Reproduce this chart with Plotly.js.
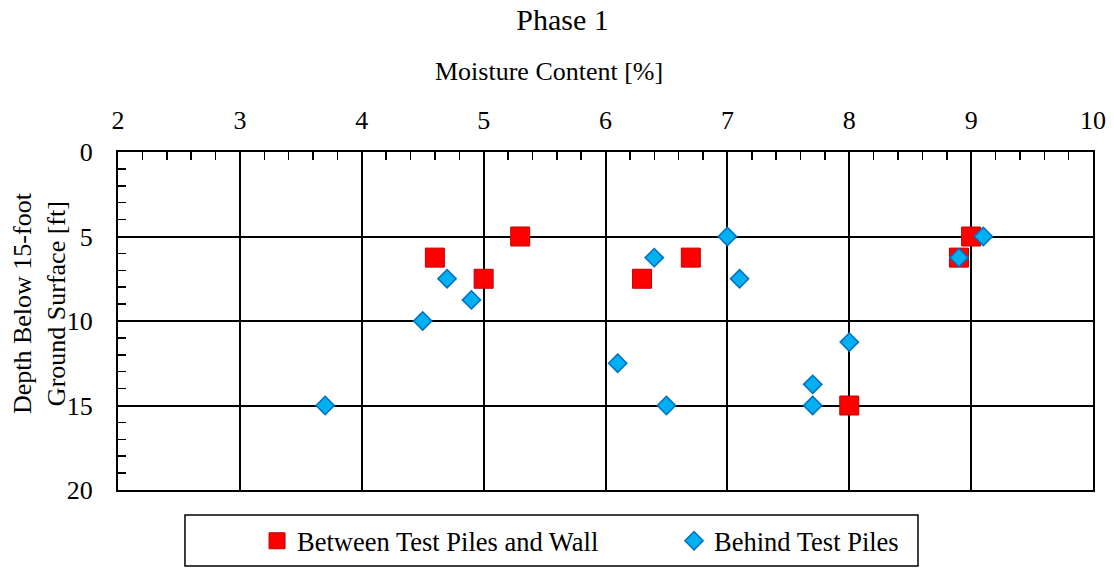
<!DOCTYPE html>
<html><head><meta charset="utf-8">
<script src="https://cdn.plot.ly/plotly-3.0.1.min.js"></script>
<style>html,body{margin:0;padding:0;background:#fff;}</style>
</head><body>
<div id="chart" style="width:1114px;height:569px;"></div>
<script>
const chartTitle = "Phase 1";
const xTitle = "Moisture Content [%]";
const yTitle = "Depth Below 15-foot<br>Ground Surface [ft]";
const seriesNames = ["Between Test Piles and Wall", "Behind Test Piles"];
const betweenMoisture = [4.6, 5.0, 5.3, 6.3, 6.7, 8.0, 9.0, 8.9];
const betweenDepth    = [6.25, 7.5, 5, 7.5, 6.25, 15, 5, 6.25];
const behindMoisture  = [3.7, 4.5, 4.7, 4.9, 6.1, 6.4, 6.5, 7.0, 7.1, 7.7, 7.7, 8.0, 8.9, 9.1];
const behindDepth     = [15, 10, 7.5, 8.75, 12.5, 6.25, 15, 5, 7.5, 13.75, 15, 11.25, 6.25, 5];
const xTickVals = [2, 3, 4, 5, 6, 7, 8, 9, 10];
const yTickVals = [0, 5, 10, 15, 20];

const FONT = "'Liberation Serif', 'Times New Roman', Times, 'DejaVu Serif', serif";

const traces = [
  {
    type: "scatter", mode: "markers", name: seriesNames[0], legend: "legend",
    x: betweenMoisture, y: betweenDepth,
    marker: {symbol: "square", size: 19, color: "#FF0000", line: {color: "#C00000", width: 1}}
  },
  {
    type: "scatter", mode: "markers", name: seriesNames[1], legend: "legend2",
    x: behindMoisture, y: behindDepth,
    marker: {symbol: "diamond", size: 14, color: "#00B0F0", line: {color: "#0070C0", width: 1.5}}
  }
];

const legendFont = {family: FONT, size: 26.5, color: "#000"};

const layout = {
  width: 1114, height: 569,
  margin: {l: 118, r: 21, t: 152, b: 79, autoexpand: false},
  paper_bgcolor: "#fff", plot_bgcolor: "#fff",
  font: {family: FONT, size: 26, color: "#000"},
  title: {text: chartTitle, font: {family: FONT, size: 30, color: "#000"},
          xref: "container", x: 0.505, xanchor: "center", yref: "container", y: 0.965, yanchor: "middle"},
  xaxis: {
    side: "top", range: [2, 10], tickvals: xTickVals, ticktext: xTickVals.map(String),
    showgrid: true, gridcolor: "#000", gridwidth: 2,
    showline: true, linecolor: "#000", linewidth: 2, mirror: true,
    ticks: "inside", ticklen: 8, tickwidth: 1.5, tickcolor: "#000",
    minor: {dtick: 0.2, ticks: "inside", ticklen: 8, tickwidth: 1.5, tickcolor: "#000", showgrid: false},
    ticklabelstandoff: 11,
    tickfont: {family: FONT, size: 26, color: "#000"},
    zeroline: false, fixedrange: true
  },
  yaxis: {
    range: [20, 0], tickvals: yTickVals, ticktext: yTickVals.map(String),
    showgrid: true, gridcolor: "#000", gridwidth: 2,
    showline: true, linecolor: "#000", linewidth: 2, mirror: true,
    ticks: "inside", ticklen: 8, tickwidth: 1.5, tickcolor: "#000",
    minor: {dtick: 1, ticks: "inside", ticklen: 8, tickwidth: 1.5, tickcolor: "#000", showgrid: false},
    ticklabelstandoff: 18,
    tickfont: {family: FONT, size: 26, color: "#000"},
    zeroline: false, fixedrange: true
  },
  annotations: [
    {text: xTitle, xref: "paper", yref: "paper", x: 0.442, y: 1.237, xanchor: "center", yanchor: "middle",
     showarrow: false, font: {family: FONT, size: 26, color: "#000"}},
    {text: yTitle, xref: "paper", yref: "paper", x: -0.081, y: 0.553, xanchor: "center", yanchor: "middle",
     textangle: -90, showarrow: false, font: {family: FONT, size: 26, color: "#000"}}
  ],
  shapes: [
    {type: "rect", xref: "paper", yref: "paper", x0: 0.0687, x1: 0.8205, y0: -0.074, y1: -0.225,
     line: {color: "#000", width: 1.5}, fillcolor: "rgba(0,0,0,0)"}
  ],
  showlegend: true,
  legend: {
    orientation: "h", x: 0.1426, xanchor: "left", y: -0.151, yanchor: "middle",
    bgcolor: "rgba(0,0,0,0)", borderwidth: 0, font: legendFont
  },
  legend2: {
    orientation: "h", x: 0.5703, xanchor: "left", y: -0.151, yanchor: "middle",
    bgcolor: "rgba(0,0,0,0)", borderwidth: 0, font: legendFont
  }
};

Plotly.newPlot("chart", traces, layout, {displayModeBar: false, staticPlot: true});
</script>
</body></html>
